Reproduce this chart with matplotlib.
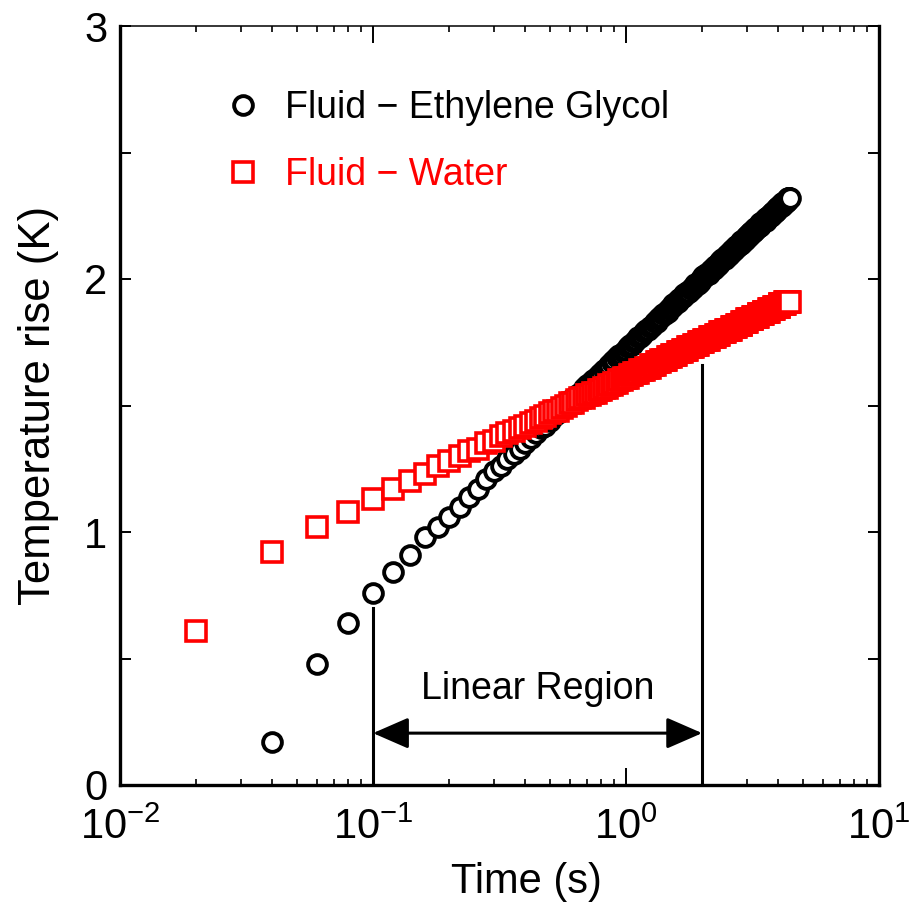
import numpy as np
import matplotlib
matplotlib.use("Agg")
import matplotlib.pyplot as plt
from matplotlib.ticker import MultipleLocator, FuncFormatter, LogLocator

plt.rcParams['font.family'] = ['Liberation Sans', 'DejaVu Sans']
plt.rcParams['mathtext.fontset'] = 'custom'
plt.rcParams['mathtext.rm'] = 'Liberation Sans'
plt.rcParams['mathtext.it'] = 'Liberation Sans:italic'
plt.rcParams['mathtext.bf'] = 'Liberation Sans:bold'

# Sampling interval of the hot-wire record (s)
dt = 0.02

# Temperature rise (K), ethylene glycol, first sample at 0.04 s
T_glycol = [
    0.17, 0.48, 0.64, 0.76, 0.84, 0.91, 0.98, 1.02, 1.06, 1.10, 1.14, 1.17, 1.21,
    1.24, 1.26, 1.29, 1.31, 1.33, 1.35, 1.37, 1.39, 1.41, 1.42, 1.44, 1.46, 1.47, 1.49, 1.50, 1.52,
    1.53, 1.54, 1.55, 1.57, 1.58, 1.59, 1.60, 1.61, 1.62, 1.63, 1.64, 1.65, 1.66, 1.67, 1.68, 1.69, 1.70, 1.70, 1.71, 1.72,
    1.73, 1.74, 1.74, 1.75, 1.76, 1.77, 1.77, 1.78, 1.79, 1.80, 1.80, 1.81, 1.81, 1.82, 1.83, 1.83, 1.84, 1.85, 1.85, 1.86,
    1.86, 1.87, 1.87, 1.88, 1.89, 1.89, 1.90, 1.90, 1.91, 1.91, 1.92, 1.92, 1.93, 1.93, 1.94, 1.94, 1.95, 1.95, 1.95, 1.96,
    1.96, 1.97, 1.97, 1.98, 1.98, 1.98, 1.99, 1.99, 2.00, 2.00, 2.01, 2.01, 2.01, 2.02, 2.02, 2.02, 2.03, 2.03, 2.04, 2.04,
    2.04, 2.05, 2.05, 2.05, 2.06, 2.06, 2.06, 2.07, 2.07, 2.08, 2.08, 2.08, 2.08, 2.09, 2.09, 2.09, 2.10, 2.10, 2.10, 2.11,
    2.11, 2.11, 2.12, 2.12, 2.12, 2.13, 2.13, 2.13, 2.13, 2.14, 2.14, 2.14, 2.15, 2.15, 2.15, 2.15, 2.16, 2.16, 2.16, 2.17,
    2.17, 2.17, 2.17, 2.18, 2.18, 2.18, 2.18, 2.19, 2.19, 2.19, 2.19, 2.20, 2.20, 2.20, 2.20, 2.21, 2.21, 2.21, 2.21, 2.22,
    2.22, 2.22, 2.22, 2.23, 2.23, 2.23, 2.23, 2.23, 2.24, 2.24, 2.24, 2.24, 2.25, 2.25, 2.25, 2.25, 2.25, 2.26, 2.26, 2.26,
    2.26, 2.26, 2.27, 2.27, 2.27, 2.27, 2.28, 2.28, 2.28, 2.28, 2.28, 2.29, 2.29, 2.29, 2.29, 2.29, 2.30, 2.30, 2.30, 2.30,
    2.30, 2.30, 2.31, 2.31, 2.31, 2.31, 2.31, 2.32, 2.32, 2.32, 2.32, 2.32,
]

# Temperature rise (K), water, first sample at 0.02 s
T_water = [
    0.61, 0.92, 1.02, 1.08, 1.13, 1.17, 1.20, 1.23, 1.26, 1.28, 1.30, 1.32, 1.33, 1.35,
    1.36, 1.38, 1.39, 1.40, 1.41, 1.42, 1.43, 1.44, 1.45, 1.46, 1.47, 1.48, 1.48, 1.49, 1.50, 1.51,
    1.51, 1.52, 1.53, 1.53, 1.54, 1.54, 1.55, 1.55, 1.56, 1.56, 1.57, 1.57, 1.58, 1.58, 1.59, 1.59, 1.60, 1.60, 1.61, 1.61,
    1.61, 1.62, 1.62, 1.63, 1.63, 1.63, 1.64, 1.64, 1.64, 1.65, 1.65, 1.65, 1.66, 1.66, 1.66, 1.67, 1.67, 1.67, 1.68, 1.68,
    1.68, 1.68, 1.69, 1.69, 1.69, 1.70, 1.70, 1.70, 1.70, 1.71, 1.71, 1.71, 1.71, 1.72, 1.72, 1.72, 1.72, 1.73, 1.73, 1.73,
    1.73, 1.73, 1.74, 1.74, 1.74, 1.74, 1.75, 1.75, 1.75, 1.75, 1.75, 1.76, 1.76, 1.76, 1.76, 1.76, 1.77, 1.77, 1.77, 1.77,
    1.77, 1.77, 1.78, 1.78, 1.78, 1.78, 1.78, 1.79, 1.79, 1.79, 1.79, 1.79, 1.79, 1.80, 1.80, 1.80, 1.80, 1.80, 1.80, 1.80,
    1.81, 1.81, 1.81, 1.81, 1.81, 1.81, 1.82, 1.82, 1.82, 1.82, 1.82, 1.82, 1.82, 1.83, 1.83, 1.83, 1.83, 1.83, 1.83, 1.83,
    1.84, 1.84, 1.84, 1.84, 1.84, 1.84, 1.84, 1.84, 1.85, 1.85, 1.85, 1.85, 1.85, 1.85, 1.85, 1.85, 1.86, 1.86, 1.86, 1.86,
    1.86, 1.86, 1.86, 1.86, 1.87, 1.87, 1.87, 1.87, 1.87, 1.87, 1.87, 1.87, 1.87, 1.88, 1.88, 1.88, 1.88, 1.88, 1.88, 1.88,
    1.88, 1.88, 1.89, 1.89, 1.89, 1.89, 1.89, 1.89, 1.89, 1.89, 1.89, 1.89, 1.90, 1.90, 1.90, 1.90, 1.90, 1.90, 1.90, 1.90,
    1.90, 1.90, 1.91, 1.91, 1.91, 1.91, 1.91, 1.91, 1.91, 1.91, 1.91, 1.91,
]

t_water = dt * np.arange(1, len(T_water) + 1)
t_glycol = dt * np.arange(2, len(T_glycol) + 2)

# Bounds of the linear (log-time) fitting window, s
fit_start, fit_end = 0.1, 2.0
fit_line_top = [0.70, 1.66]

series_labels = ["Fluid \u2212 Ethylene Glycol", "Fluid \u2212 Water"]

circle_style = dict(marker='o', ms=13.5, mfc='white', mec='black', mew=2.8)
square_style = dict(marker='s', ms=13.8, mfc='white', mec='#ff0000', mew=2.6)

fig = plt.figure(figsize=(9.09, 9.07), dpi=100)
ax = fig.add_axes([120 / 909, 1 - 785 / 907, 759 / 909, 759 / 907])

ax.plot(t_glycol, T_glycol, ls='none', zorder=3, **circle_style)
ax.plot(t_water, T_water, ls='none', zorder=4, **square_style)

ax.set_xscale('log')
ax.set_xlim(1e-2, 1e1)
ax.set_ylim(0, 3)

# Linear-region markers
ax.plot([fit_start, fit_start], [0, fit_line_top[0]], color='black', lw=2.2, zorder=2)
ax.plot([fit_end, fit_end], [0, fit_line_top[1]], color='black', lw=2.2, zorder=2)
ax.annotate('', xy=(fit_start, 0.205), xytext=(fit_end, 0.205),
            arrowprops=dict(arrowstyle='<|-|>,head_length=1.1,head_width=0.48',
                            color='black', lw=2.2, mutation_scale=20,
                            shrinkA=0, shrinkB=0))
ax.text(np.sqrt(fit_start * fit_end), 0.38, 'Linear Region', ha='center',
        va='center', fontsize=27)

# Legend entries
ax.plot([0.162], [0.896], transform=ax.transAxes, clip_on=False, **circle_style)
ax.text(0.217, 0.879, series_labels[0], transform=ax.transAxes,
        fontsize=27, va='baseline', ha='left', color='black')
ax.plot([0.162], [0.808], transform=ax.transAxes, clip_on=False, **square_style)
ax.text(0.217, 0.790, series_labels[1], transform=ax.transAxes,
        fontsize=27, va='baseline', ha='left', color='#ff0000')

# Axes styling
for side in ['left', 'bottom', 'right']:
    ax.spines[side].set_linewidth(2.4)
ax.spines['top'].set_linewidth(1.1)

ax.xaxis.set_major_locator(LogLocator(base=10, numticks=10))
ax.xaxis.set_minor_locator(LogLocator(base=10, subs=np.arange(2, 10), numticks=10))
ax.xaxis.set_major_formatter(FuncFormatter(
    lambda v, p: r'$\mathregular{10^{%d}}$' % int(round(np.log10(v)))))
ax.yaxis.set_major_locator(MultipleLocator(0.5))
ax.yaxis.set_major_formatter(FuncFormatter(
    lambda v, p: '%d' % round(v) if abs(v - round(v)) < 1e-6 else ''))

ax.tick_params(which='both', direction='in', top=True, right=True)
ax.tick_params(axis='x', which='major', length=12, width=1.4, pad=16, labelsize=30)
ax.tick_params(axis='x', which='minor', length=4.5, width=1.2)
ax.tick_params(axis='y', which='major', length=8, width=1.4, pad=9, labelsize=30)

ax.set_xlabel('Time (s)', fontsize=30)
ax.set_ylabel('Temperature rise (K)', fontsize=31.5)
ax.xaxis.label.set_va('center')
ax.yaxis.label.set_va('center')
ax.xaxis.set_label_coords(0.535, -0.128)
ax.yaxis.set_label_coords(-0.108, 0.5)

fig.savefig('out.png', dpi=100)
